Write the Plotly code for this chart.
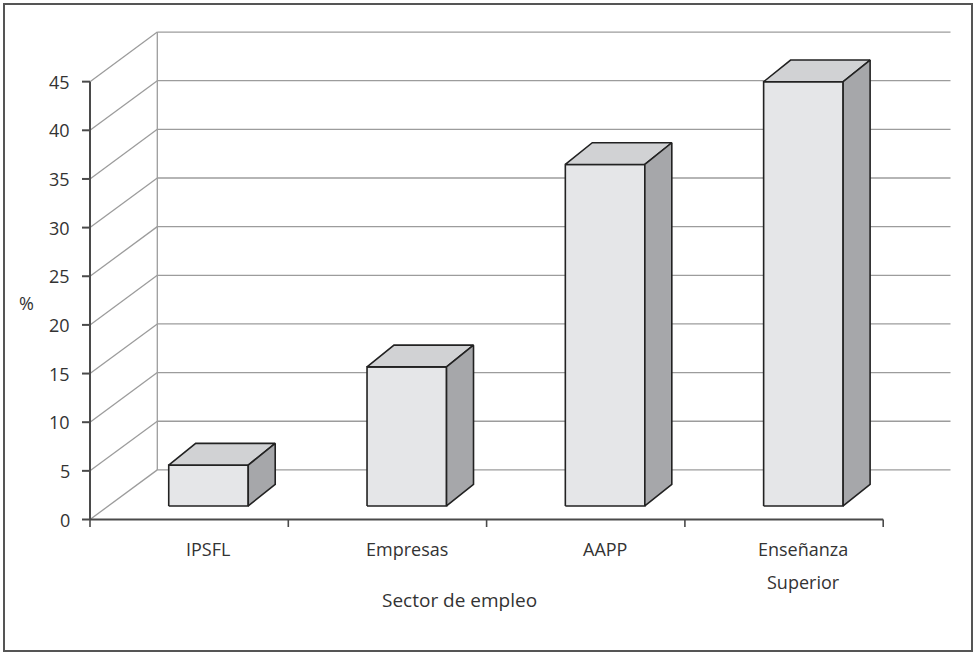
import plotly.graph_objects as go

# ---- data ----
categories = ["IPSFL", "Empresas", "AAPP", "Enseñanza\nSuperior"]
values = [4.2, 14.3, 35.1, 43.6]
y_ticks = [0, 5, 10, 15, 20, 25, 30, 35, 40, 45]
y_title = "%"
x_title = "Sector de empleo"

# ---- pseudo-3D geometry (in axis units) ----
W, H = 974, 652
PX_CAT = 198.3      # pixels per category slot
PX_VAL = 9.73       # pixels per value unit
X0PX, Y0PX = 90, 519.5
WALL_DX, WALL_DY = 0.3394, 5.1          # back wall offset
BAR_OFF, BAR_W = 0.397, 0.401          # front face position within slot
BAR_BASE = 1.39                         # front face base (value units)
DEP_DX, DEP_DY = 0.136, 2.23            # bar depth

FONT = "Open Sans, Noto Sans, DejaVu Sans, sans-serif"
TXT = "#333333"
GRID = "#9c9c9c"
AXIS = "#4a4a4a"
FRONT, TOP, SIDE = "#e5e6e8", "#d1d2d4", "#a6a7aa"
EDGE = "#222222"

xr = [(0 - X0PX) / PX_CAT, (W - X0PX) / PX_CAT]
yr = [(Y0PX - H) / PX_VAL, Y0PX / PX_VAL]

fig = go.Figure()

def line(xs, ys, color, width):
    fig.add_trace(go.Scatter(x=xs, y=ys, mode="lines",
                             line=dict(color=color, width=width),
                             hoverinfo="skip", showlegend=False))

def poly(xs, ys, fill):
    fig.add_trace(go.Scatter(x=xs + [xs[0]], y=ys + [ys[0]], mode="lines",
                             fill="toself", fillcolor=fill,
                             line=dict(color=EDGE, width=1.6),
                             hoverinfo="skip", showlegend=False))

n = len(categories)
ymax = y_ticks[-1]

# back wall gridlines
for v in y_ticks:
    line([WALL_DX, n + WALL_DX], [v + WALL_DY, v + WALL_DY], GRID, 1.3)
    line([0, WALL_DX], [v, v + WALL_DY], GRID, 1.3)
line([WALL_DX, WALL_DX], [WALL_DY, ymax + WALL_DY], GRID, 1.3)

# bars
for i, v in enumerate(values):
    x1 = i + BAR_OFF
    x2 = x1 + BAR_W
    b = BAR_BASE
    t = BAR_BASE + v
    poly([x1, x2, x2, x1], [b, b, t, t], FRONT)
    poly([x1, x2, x2 + DEP_DX, x1 + DEP_DX], [t, t, t + DEP_DY, t + DEP_DY], TOP)
    poly([x2, x2 + DEP_DX, x2 + DEP_DX, x2], [b, b + DEP_DY, t + DEP_DY, t], SIDE)

# front axes
line([0, 0], [0, ymax], AXIS, 2)
line([0, n], [0, 0], AXIS, 2)
tlx = 8 / PX_CAT
for v in y_ticks:
    line([-tlx, 0], [v, v], AXIS, 2)
tly = 7.5 / PX_VAL
for i in range(n + 1):
    line([i, i], [0, -tly], AXIS, 1.6)

ann = []
for v in y_ticks:
    ann.append(dict(x=-18 / PX_CAT, y=v, text=str(v), xanchor="right",
                    yanchor="middle", showarrow=False))
for i, c in enumerate(categories):
    cx = i + BAR_OFF + BAR_W / 2
    for k, part in enumerate(c.split("\n")):
        ann.append(dict(x=cx, y=(Y0PX - 549 - 33 * k) / PX_VAL, text=part,
                        xanchor="center", yanchor="middle", showarrow=False))
ann.append(dict(x=(26 - X0PX) / PX_CAT, y=(Y0PX - 303) / PX_VAL, text=y_title,
                xanchor="center", yanchor="middle", showarrow=False))
ann.append(dict(x=(459 - X0PX) / PX_CAT, y=(Y0PX - 600) / PX_VAL, text=x_title,
                xanchor="center", yanchor="middle", showarrow=False,
                font=dict(size=19)))

fig.update_layout(
    width=W, height=H, autosize=False,
    margin=dict(l=0, r=0, t=0, b=0, pad=0),
    paper_bgcolor="white", plot_bgcolor="white",
    xaxis=dict(range=xr, visible=False, fixedrange=True),
    yaxis=dict(range=yr, visible=False, fixedrange=True),
    font=dict(family=FONT, size=18, color=TXT),
    annotations=ann,
    shapes=[dict(type="rect", xref="paper", yref="paper",
                 x0=4 / W, x1=972 / W, y0=1 - 651 / H, y1=1 - 4 / H,
                 line=dict(color="#555555", width=2))],
    showlegend=False,
)

fig.write_html("out.html")
